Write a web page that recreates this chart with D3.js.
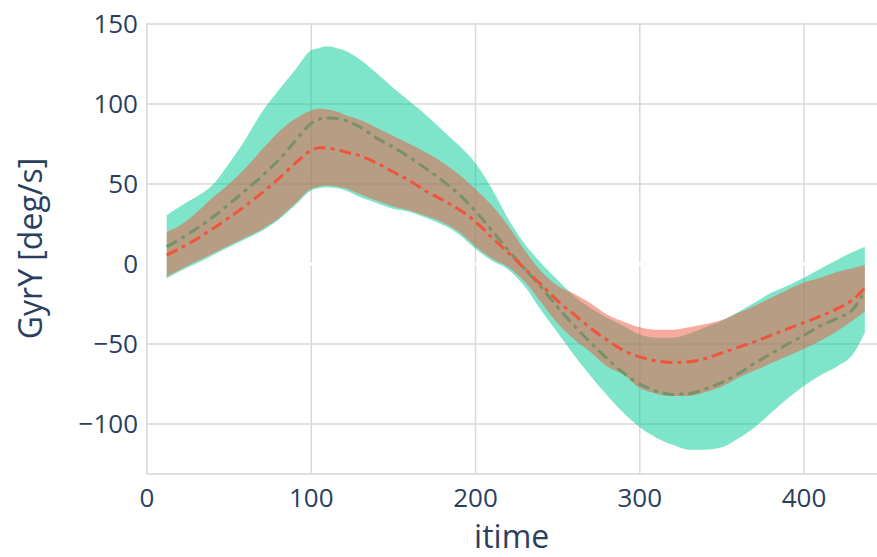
<!DOCTYPE html>
<html>
<head>
<script src="https://d3js.org/d3.v7.min.js"></script>
<style>
  body { margin: 0; background: #fff; }
  text { font-family: "Open Sans", sans-serif; fill: #2a3f5f; }
  .grid line { stroke: #d9d9d9; stroke-width: 1.5px; }
</style>
</head>
<body>
<div id="chart"></div>
<script>
// itime samples
const itime = [12, 20, 30, 40, 50, 60, 70, 80, 90, 100, 105, 110, 115, 120, 130, 140, 150, 160, 170, 180,
  190, 200, 210, 220, 230, 240, 250, 260, 270, 280, 290, 300, 310, 320, 330, 340, 350, 360, 370, 380,
  390, 400, 410, 420, 430, 437];

// group A (teal): band upper / lower and mean
const tealUpper = [30.5, 36, 42, 49.5, 63, 78, 95, 108.5, 121, 133.5, 135, 136, 135, 133.5, 127.5, 119, 110, 101.5, 93, 83.5,
  74, 63, 47, 28, 12.5, 0.5, -10, -20, -27.5, -33.5, -38.5, -44, -46, -46, -43.5, -39.5, -35.5, -30, -24, -18,
  -13.5, -8.5, -3, 2.5, 7.7, 10.8];
const tealLower = [-9, -4.5, 0.3, 5.5, 10.6, 15.7, 20.8, 27.5, 36.5, 46, 47.5, 48, 47.5, 46.3, 41.7, 38, 34.5, 32.5, 28.8, 24.5,
  18.5, 9.5, 2, -3.5, -14, -29, -43, -57, -70, -82, -93, -102, -108.5, -113, -116, -116, -114.5, -109, -102, -93,
  -84, -76, -69.5, -64, -56, -43];
const tealMean = [10.8, 15.5, 22, 29.2, 37.5, 46, 55, 64.8, 76.5, 88, 90.5, 91.3, 91, 90, 85.3, 78.5, 73, 66.5, 59.5, 52,
  43.5, 33, 21, 8.5, -3, -14.5, -27, -38.5, -49, -59, -68, -75, -79.5, -81.5, -81, -78, -74, -68.5, -62, -56,
  -50, -44.5, -38.5, -34, -28, -17];

// group B (salmon): band upper / lower and mean
const salmonUpper = [20, 24, 32, 41.5, 50, 60, 71.5, 82.4, 90.6, 96, 97, 96.5, 95.5, 93.5, 90, 85, 80, 75, 69.5, 63.5,
  56, 46.7, 36.5, 23.7, 8.5, -4.5, -13.5, -18.5, -24.5, -31.5, -36, -39.5, -41, -41, -39.5, -37.5, -35, -30.5, -26, -21,
  -16, -11.5, -8.5, -5, -2.5, -0.6];
const salmonLower = [-8, -3.5, 1.5, 6.5, 11.5, 16.5, 21.8, 28.5, 37.5, 47, 48.5, 49, 48.5, 47.5, 43.5, 39.5, 36, 33.5, 30, 26,
  20, 11, 3.5, -2, -11, -24, -37, -47, -55, -64, -69, -77.5, -81, -82.5, -82.5, -80, -76.5, -71, -66.5, -62,
  -57.5, -53, -48, -42, -35, -29.7];
const salmonMean = [5.6, 9.8, 15.5, 22, 29, 36.4, 44.5, 53.2, 62.7, 71, 72.7, 72.5, 71.5, 70.3, 67.5, 63, 57.5, 52, 45.5, 40,
  34, 26.5, 16.5, 7, -3, -13, -23, -31.5, -40, -47.5, -54, -58, -60.5, -61.5, -61, -59, -55.5, -52, -48.5, -44.5,
  -40.5, -36.5, -32.5, -28, -22, -15];

const xTicks = [0, 100, 200, 300, 400];
const yTicks = [-100, -50, 0, 50, 100, 150];

const W = 877, H = 557;
const margin = {top: 23, right: 0, bottom: 83, left: 147};
const width = W - margin.left - margin.right,
      height = H - margin.top - margin.bottom;

const x = d3.scaleLinear().domain([0, 444.4]).range([0, width]);
const y = d3.scaleLinear().domain([-131.2, 150.6]).range([height, 0]);

const svg = d3.select("#chart").append("svg")
  .attr("width", W).attr("height", H);
const g = svg.append("g")
  .attr("transform", "translate(" + margin.left + "," + margin.top + ")");

// grid
g.append("g").attr("class", "grid")
  .selectAll("line").data(xTicks.filter(d => d > 0)).join("line")
  .attr("x1", d => x(d)).attr("x2", d => x(d))
  .attr("y1", 0).attr("y2", height);
g.append("g").attr("class", "grid")
  .selectAll("line").data(yTicks.filter(d => d !== 0)).join("line")
  .attr("x1", 0).attr("x2", width)
  .attr("y1", d => y(d)).attr("y2", d => y(d));

// zero line (white)
g.append("line")
  .attr("x1", 0).attr("x2", width)
  .attr("y1", y(0)).attr("y2", y(0))
  .attr("stroke", "#fff").attr("stroke-width", 3);

// axis lines
g.append("line").attr("x1", 0).attr("x2", 0).attr("y1", 0).attr("y2", height)
  .attr("stroke", "#d6d6d6").attr("stroke-width", 1.5);
g.append("line").attr("x1", 0).attr("x2", width).attr("y1", height).attr("y2", height)
  .attr("stroke", "#d6d6d6").attr("stroke-width", 1.5);

const curve = d3.curveMonotoneX;
const band = (up, lo) => d3.area()
  .x((d, i) => x(itime[i]))
  .y0((d, i) => y(lo[i]))
  .y1((d, i) => y(up[i]))
  .curve(curve)(itime);
const line = vals => d3.line()
  .x((d, i) => x(itime[i]))
  .y((d, i) => y(vals[i]))
  .curve(curve)(itime);

g.append("path").attr("d", band(tealUpper, tealLower))
  .attr("fill", "#00CC96").attr("fill-opacity", 0.5);
g.append("path").attr("d", line(tealMean))
  .attr("fill", "none").attr("stroke", "#00CC96").attr("stroke-width", 3)
  .attr("stroke-dasharray", "12,5,4,5");
g.append("path").attr("d", band(salmonUpper, salmonLower))
  .attr("fill", "#EF553B").attr("fill-opacity", 0.5);
g.append("path").attr("d", line(salmonMean))
  .attr("fill", "none").attr("stroke", "#EF553B").attr("stroke-width", 3)
  .attr("stroke-dasharray", "12,5,4,5");

// tick labels
const fmt = d => (d < 0 ? "\u2212" + Math.abs(d) : "" + d);
g.append("g").selectAll("text").data(xTicks).join("text")
  .attr("x", d => x(d)).attr("y", height + 33)
  .attr("text-anchor", "middle").style("font-size", "26px")
  .text(fmt);
g.append("g").selectAll("text").data(yTicks).join("text")
  .attr("x", -9).attr("y", d => y(d)).attr("dy", "0.35em")
  .attr("text-anchor", "end").style("font-size", "26px")
  .text(fmt);

// axis titles
svg.append("text")
  .attr("x", margin.left + x(222)).attr("y", 548)
  .attr("text-anchor", "middle").style("font-size", "32px")
  .text("itime");
svg.append("text")
  .attr("transform", "translate(42," + (margin.top + height / 2) + ") rotate(-90)")
  .attr("text-anchor", "middle").style("font-size", "32px")
  .text("GyrY [deg/s]");
</script>
</body>
</html>
